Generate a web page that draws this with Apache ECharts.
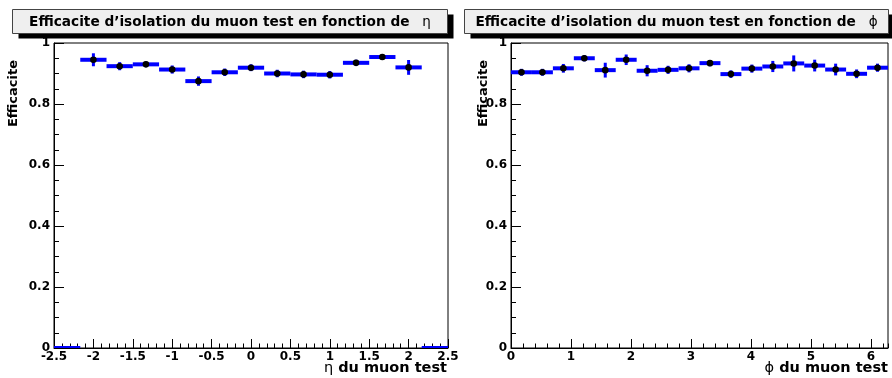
<!DOCTYPE html>
<html>
<head>
<meta charset="utf-8">
<script src="https://cdn.jsdelivr.net/npm/echarts@6/dist/echarts.min.js"></script>
<style>
html,body{margin:0;padding:0;background:#fff;}
#chart{width:892px;height:378px;}
</style>
</head>
<body>
<div id="chart"></div>
<script>
// ---- data ----
const etaEdges = [-2.5, -2.1667, -1.8333, -1.5, -1.1667, -0.8333, -0.5, -0.1667, 0.1667, 0.5, 0.8333, 1.1667, 1.5, 1.8333, 2.1667, 2.5];
const etaEff = [0, 0.945, 0.924, 0.930, 0.913, 0.875, 0.904, 0.919, 0.900, 0.897, 0.896, 0.935, 0.954, 0.920, 0];
const etaErr = [0, 0.018, 0.010, 0.006, 0.010, 0.012, 0.009, 0.008, 0.009, 0.009, 0.009, 0.007, 0.006, 0.021, 0];

const phiEdges = [0, 0.3491, 0.6981, 1.0472, 1.3963, 1.7453, 2.0944, 2.4435, 2.7925, 3.1416, 3.4907, 3.8397, 4.1888, 4.5379, 4.8869, 5.2360, 5.5851, 5.9341, 6.2832];
const phiEff = [0.904, 0.904, 0.917, 0.950, 0.911, 0.945, 0.909, 0.912, 0.917, 0.934, 0.898, 0.916, 0.923, 0.933, 0.926, 0.913, 0.899, 0.919];
const phiErr = [0.008, 0.008, 0.011, 0.007, 0.021, 0.014, 0.015, 0.010, 0.010, 0.007, 0.009, 0.010, 0.015, 0.023, 0.016, 0.016, 0.011, 0.010];

const titleMain = 'Efficacite d\u2019isolation du muon test en fonction de';
const yTitle = 'Efficacite';
const xTitleRest = ' du muon test';
const etaSym = '\u03b7';
const phiSym = '\u03d5';

// ---- build ----
function rows(edges, eff, err) {
  return eff.map((v, i) => [edges[i], edges[i + 1], v, err[i]]);
}
const FONT = 'DejaVu Sans';
const BLUE = '#0000ff';

function renderItem(params, api) {
  const lo = api.value(0), hi = api.value(1), v = api.value(2), e = api.value(3);
  const c = (lo + hi) / 2;
  const a = api.coord([lo, v]), b = api.coord([hi, v]);
  const t = api.coord([c, v + e]), d = api.coord([c, v - e]);
  const m = api.coord([c, v]);
  const children = [
    {type: 'line', shape: {x1: a[0], y1: a[1], x2: b[0], y2: b[1]}, style: {stroke: BLUE, lineWidth: 4}},
    {type: 'line', shape: {x1: t[0], y1: t[1] - 1, x2: d[0], y2: d[1] + 1}, style: {stroke: BLUE, lineWidth: 3}}
  ];
  if (v > 0) children.push({type: 'circle', shape: {cx: m[0], cy: m[1], r: 3.3}, style: {fill: '#000'}});
  return {type: 'group', children};
}

const gridBase = {top: 43, height: 305, outerBoundsMode: 'none', containLabel: false};
const gridL = Object.assign({left: 54, width: 394, show: true, borderColor: '#000', borderWidth: 1, backgroundColor: '#fff'}, gridBase);
const gridR = Object.assign({left: 511, width: 377, show: true, borderColor: '#000', borderWidth: 1, backgroundColor: '#fff'}, gridBase);
const gridR2 = Object.assign({left: 511, width: 377, show: false}, gridBase);

const lblStyle = {fontFamily: FONT, fontWeight: 'bold', fontSize: 12, color: '#000'};

function xAx(grid, min, max, interval, minorSplit) {
  return {
    gridIndex: grid, type: 'value', min, max, interval,
    axisLine: {show: true, onZero: false, lineStyle: {color: '#000', width: 1}},
    axisTick: {show: true, inside: true, length: 9, lineStyle: {color: '#000'}},
    minorTick: {show: minorSplit > 0, splitNumber: minorSplit || 5, length: 4.5, lineStyle: {color: '#000'}},
    axisLabel: Object.assign({margin: 3, showMaxLabel: grid === 0, showMinLabel: true, hideOverlap: false}, lblStyle),
    splitLine: {show: false}, minorSplitLine: {show: false}
  };
}
function yAx(grid) {
  return {
    gridIndex: grid, type: 'value', min: 0, max: 1, interval: 0.2,
    axisLine: {show: true, onZero: false, lineStyle: {color: '#000', width: 1}},
    axisTick: {show: true, inside: true, length: 10, lineStyle: {color: '#000'}},
    minorTick: {show: true, splitNumber: 4, length: 5, lineStyle: {color: '#000'}},
    axisLabel: Object.assign({margin: 4}, lblStyle),
    splitLine: {show: false}, minorSplitLine: {show: false}
  };
}

const xAxes = [
  xAx(0, -2.5, 2.5, 0.5, 5),
  xAx(1, 0, 6.2832, 1, 0),
  {gridIndex: 2, type: 'value', min: 0, max: 6.2832, interval: 0.2,
   axisLine: {show: false}, axisTick: {show: true, inside: true, length: 4.5, lineStyle: {color: '#000'}},
   axisLabel: {show: false}, splitLine: {show: false}}
];
const yAxes = [yAx(0), yAx(1), {gridIndex: 2, type: 'value', min: 0, max: 1, show: false}];

function titleBox(x, y, w, h, sym) {
  return {
    type: 'group', children: [
      {type: 'rect', shape: {x: x + 6, y: y + 5, width: w, height: h}, style: {fill: '#000'}},
      {type: 'rect', shape: {x: x, y: y, width: w, height: h}, style: {fill: '#efefef', stroke: '#444', lineWidth: 1}},
      {type: 'text', x: x + w / 2, y: y + h / 2 + 0.5, style: {
        text: '{b|' + titleMain + '}{g|   ' + sym + '}', align: 'center', verticalAlign: 'middle',
        rich: {b: {fontFamily: FONT, fontWeight: 'bold', fontSize: 13.7, fill: '#000'}, g: {fontFamily: FONT, fontSize: 13.5, fill: '#000'}}
      }}
    ]
  };
}
function xTitle(xRight, sym) {
  return {type: 'text', x: xRight, y: 368, style: {
    text: '{g|' + sym + '}{b|' + xTitleRest + '}', align: 'right', verticalAlign: 'middle',
    rich: {g: {fontFamily: FONT, fontSize: 14.5, fill: '#000'}, b: {fontFamily: FONT, fontWeight: 'bold', fontSize: 14.5, fill: '#000'}}
  }};
}
function yTitleEl(x) {
  return {type: 'text', x: x, y: 60, rotation: Math.PI / 2, style: {text: yTitle, align: 'right', verticalAlign: 'middle', fontFamily: FONT, fontWeight: 'bold', fontSize: 13, fill: '#000'}};
}

const option = {
  backgroundColor: '#fff',
  animation: false,
  grid: [gridL, gridR, gridR2],
  xAxis: xAxes,
  yAxis: yAxes,
  series: [
    {type: 'custom', xAxisIndex: 0, yAxisIndex: 0, clip: true, renderItem, encode: {x: [0, 1], y: [2]}, data: rows(etaEdges, etaEff, etaErr), z: 5},
    {type: 'custom', xAxisIndex: 1, yAxisIndex: 1, clip: true, renderItem, encode: {x: [0, 1], y: [2]}, data: rows(phiEdges, phiEff, phiErr), z: 5}
  ],
  graphic: [
    titleBox(12.5, 9.5, 435, 24, etaSym),
    titleBox(464.5, 9.5, 424, 24, phiSym),
    yTitleEl(14),
    yTitleEl(484),
    xTitle(447, etaSym),
    xTitle(888, phiSym)
  ]
};

const chart = echarts.init(document.getElementById('chart'), null, {renderer: 'canvas'});
chart.setOption(option);
</script>
</body>
</html>
